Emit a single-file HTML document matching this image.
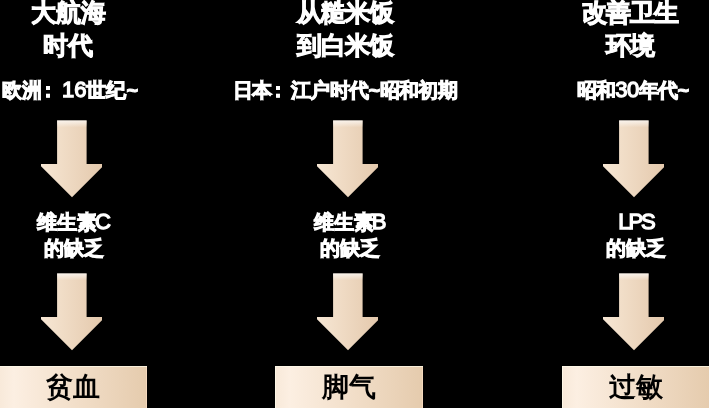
<!DOCTYPE html>
<html><head><meta charset="utf-8">
<style>
html,body{margin:0;padding:0;}
body{width:709px;height:408px;background:#000;position:relative;overflow:hidden;font-family:"Liberation Sans",sans-serif;color:#fff;}
.t{position:absolute;white-space:nowrap;will-change:transform;font-weight:bold;-webkit-text-stroke:1px #fff;text-align:center;}
.title{font-size:25px;line-height:33px;}
.sub{font-size:20px;line-height:20px;}
.mid{font-size:20px;line-height:26px;}
.arrow{position:absolute;width:80px;height:90px;}
.lat{font-size:22px;font-weight:normal;-webkit-text-stroke:1.3px #fff;}
.box{position:absolute;top:366px;width:148px;height:42px;background:linear-gradient(90deg,#f8e9d9 0%,#fcefe2 10%,#f1ddc7 55%,#e5cbad 100%);color:#000;font-size:26.5px;font-weight:bold;text-align:center;line-height:43px;will-change:transform;box-shadow:inset 1px 1px 0 rgba(255,252,235,0.7),inset -1px 0 0 rgba(255,225,200,0.6);}
</style></head><body>
<div class="t title" style="left:18px;top:-4px;width:100px;">大航海<br>时代</div>
<div class="t title" style="left:295px;top:-4px;width:100px;letter-spacing:-1.2px;">从糙米饭<br>到白米饭</div>
<div class="t title" style="left:580px;top:-4px;width:100px;letter-spacing:-1.2px;">改善卫生<br>环境</div>

<div class="t sub" style="left:0px;top:80px;width:140px;">欧洲<span style="position:relative;left:-4px">：</span><span class="lat">16</span>世纪~</div>
<div class="t sub" style="left:230px;top:80px;width:230px;letter-spacing:-0.6px;">日本<span style="position:relative;left:-4px">：</span>江户时代~昭和初期</div>
<div class="t sub" style="left:570px;top:80px;width:125px;letter-spacing:-0.6px;">昭和<span class="lat">30</span>年代~</div>

<div class="t mid" style="left:24px;top:209px;width:100px;">维生素<span class="lat" style="margin-left:-2px">C</span><br>的缺乏</div>
<div class="t mid" style="left:300px;top:209px;width:100px;">维生素<span class="lat" style="margin-left:-2px">B</span><br>的缺乏</div>
<div class="t mid" style="left:586px;top:209px;width:100px;"><span class="lat" style="letter-spacing:-2px">LPS</span><br>的缺乏</div>

<svg width="0" height="0" style="position:absolute"><defs>
<linearGradient id="ag" gradientUnits="userSpaceOnUse" x1="7" y1="0" x2="68" y2="0"><stop offset="0" stop-color="#f7e7d4"/><stop offset="1" stop-color="#e4c9ad"/></linearGradient>
<linearGradient id="tg" x1="0" y1="0" x2="0" y2="1"><stop offset="0" stop-color="#fff" stop-opacity="0.7"/><stop offset="1" stop-color="#fff" stop-opacity="0"/></linearGradient>
</defs></svg>
<svg class="arrow" style="left:34px;top:112px" viewBox="0 0 80 90"><polygon points="23.1,8.4 52.6,8.4 52.6,52 68,52 68,55.3 38,85.2 7,54.2 7,52 23.1,52" fill="url(#ag)"/><rect x="23.1" y="8.4" width="29.5" height="7" fill="url(#tg)"/></svg>
<svg class="arrow" style="left:310px;top:112px" viewBox="0 0 80 90"><polygon points="23.1,8.4 52.6,8.4 52.6,52 68,52 68,55.3 38,85.2 7,54.2 7,52 23.1,52" fill="url(#ag)"/><rect x="23.1" y="8.4" width="29.5" height="7" fill="url(#tg)"/></svg>
<svg class="arrow" style="left:596px;top:112px" viewBox="0 0 80 90"><polygon points="23.1,8.4 52.6,8.4 52.6,52 68,52 68,55.3 38,85.2 7,54.2 7,52 23.1,52" fill="url(#ag)"/><rect x="23.1" y="8.4" width="29.5" height="7" fill="url(#tg)"/></svg>
<svg class="arrow" style="left:34px;top:265px" viewBox="0 0 80 90"><polygon points="23.1,8.4 52.6,8.4 52.6,52 68,52 68,55.3 38,85.2 7,54.2 7,52 23.1,52" fill="url(#ag)"/><rect x="23.1" y="8.4" width="29.5" height="7" fill="url(#tg)"/></svg>
<svg class="arrow" style="left:310px;top:265px" viewBox="0 0 80 90"><polygon points="23.1,8.4 52.6,8.4 52.6,52 68,52 68,55.3 38,85.2 7,54.2 7,52 23.1,52" fill="url(#ag)"/><rect x="23.1" y="8.4" width="29.5" height="7" fill="url(#tg)"/></svg>
<svg class="arrow" style="left:596px;top:265px" viewBox="0 0 80 90"><polygon points="23.1,8.4 52.6,8.4 52.6,52 68,52 68,55.3 38,85.2 7,54.2 7,52 23.1,52" fill="url(#ag)"/><rect x="23.1" y="8.4" width="29.5" height="7" fill="url(#tg)"/></svg>

<div class="box" style="left:-1px;">贫血</div>
<div class="box" style="left:275px;">脚气</div>
<div class="box" style="left:562px;">过敏</div>
</body></html>
